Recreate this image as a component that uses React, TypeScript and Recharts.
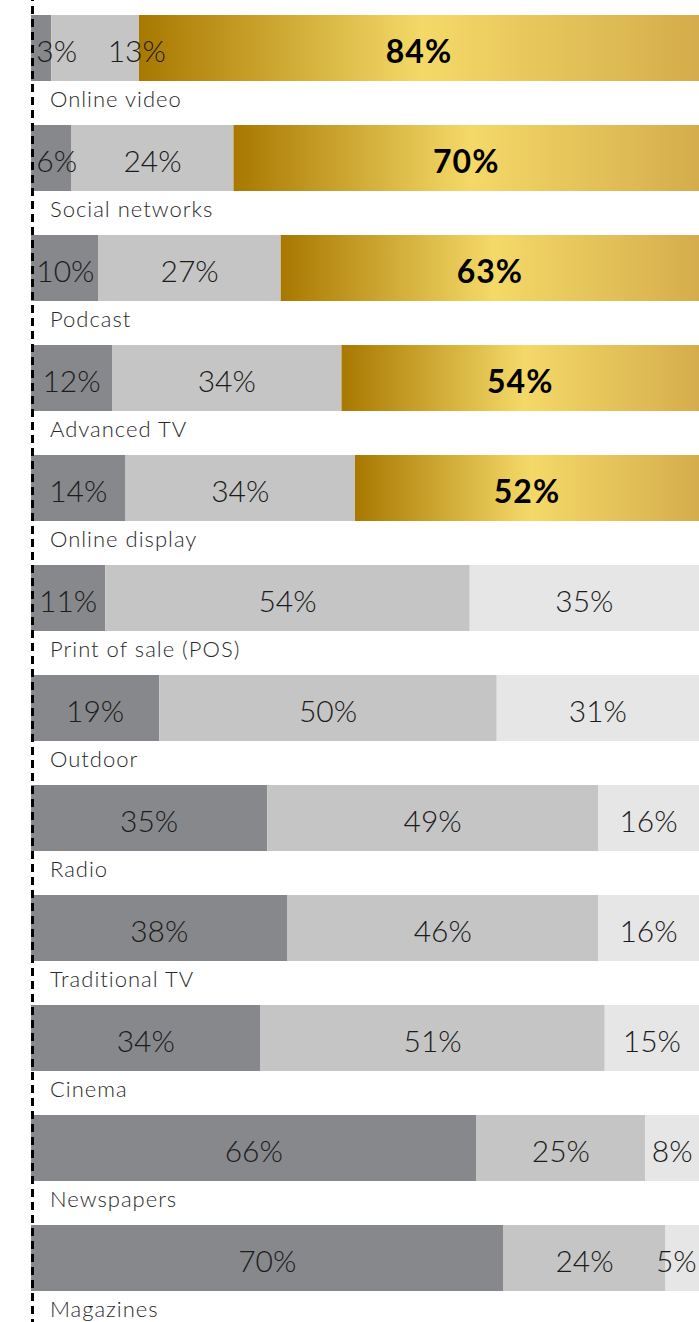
import React from 'react';
import { BarChart, Bar, XAxis, YAxis, Cell, LabelList, ReferenceLine } from 'recharts';

const categories = [
  'Online video',
  'Social networks',
  'Podcast',
  'Advanced TV',
  'Online display',
  'Print of sale (POS)',
  'Outdoor',
  'Radio',
  'Traditional TV',
  'Cinema',
  'Newspapers',
  'Magazines',
];
const lowShare = [3, 6, 10, 12, 14, 11, 19, 35, 38, 34, 66, 70];
const midShare = [13, 24, 27, 34, 34, 54, 50, 49, 46, 51, 25, 24];
const highShare = [84, 70, 63, 54, 52, 35, 31, 16, 16, 15, 8, 5];
const highlighted = [true, true, true, true, true, false, false, false, false, false, false, false];

const data = categories.map((name, i) => ({
  idx: i,
  name,
  low: lowShare[i],
  mid: midShare[i],
  high: highShare[i],
}));

const VIEW_W = 699;
const CHART_W = 706;
const CHART_H = 1330;
const FS = 30;
const FS_BOLD = 32;
const FONT = 'Lato, "Open Sans", sans-serif';
const C_LOW = '#87888c';
const C_MID = '#c5c5c5';
const C_HIGH = '#e6e6e6';

const textW = (v: number, bold: boolean) => {
  const digits = String(v).length;
  return bold ? digits * 0.6 * FS_BOLD + 0.9 * FS_BOLD : digits * 0.58 * FS + 0.8 * FS;
};

const RowLabels = (props: any) => {
  const { x, y, width, height, value } = props;
  const i = value as number;
  if (i === undefined || i === null || !data[i]) return null;
  const row = data[i];
  const k = width / row.high; // px per percent from the bar's scale
  const x0 = x - (row.low + row.mid) * k;
  const lowW = row.low * k;
  const midX = x0 + lowW;
  const midW = row.mid * k;
  const ty = y + height / 2 + 14;

  const tw1 = textW(row.low, false);
  const c1 = Math.max(x0 + lowW / 2, x0 + tw1 / 2 + 5);
  const end1 = c1 + tw1 / 2;

  const tw2 = textW(row.mid, false);
  const c2 = Math.max(midX + midW / 2, end1 + 30 + tw2 / 2);

  const bold = highlighted[i];
  const tw3 = textW(row.high, bold);
  const visRight = Math.min(x + width, VIEW_W);
  const c3 = Math.min((x + visRight) / 2, VIEW_W - 2 - tw3 / 2);

  const common = {
    fontFamily: FONT,
    fontSize: FS,
    textAnchor: 'middle' as const,
    fill: '#1c1c1c',
  };
  return (
    <g>
      <text {...common} x={c1} y={ty} fontWeight={300}>{row.low}%</text>
      <text {...common} x={c2} y={ty} fontWeight={300}>{row.mid}%</text>
      {bold ? (
        <text {...common} x={c3} y={ty + 1} fontSize={FS_BOLD} fontWeight={700} letterSpacing={1} fill="#000">
          {row.high}%
        </text>
      ) : (
        <text {...common} x={c3} y={ty} fontWeight={300}>
          {row.high}%
        </text>
      )}
      <text
        x={x0 + 19}
        y={y + height + 26}
        fontFamily={FONT}
        fontSize={22}
        fontWeight={300}
        letterSpacing={1}
        fill="#2a2a2a"
        textAnchor="start"
      >
        {row.name}
      </text>
    </g>
  );
};

const DashedAxis = (p: any) => {
  const lx = (p.x1 ?? 0) + 1.5;
  return (
    <line x1={lx} x2={lx} y1={0} y2={CHART_H} stroke="#000" strokeWidth={3} strokeDasharray="8 5" />
  );
};

export default function App() {
  return (
    <div
      style={{
        position: 'fixed',
        left: 0,
        top: 0,
        width: VIEW_W,
        height: 1322,
        overflow: 'hidden',
        background: '#fff',
      }}
    >
      <div style={{ position: 'absolute', left: 0, top: -7 }}>
        <BarChart
          width={CHART_W}
          height={CHART_H}
          data={data}
          layout="vertical"
          margin={{ top: 0, right: 0, bottom: 10, left: 31 }}
          barSize={66}
        >
          <defs>
            <linearGradient id="gold" x1="0" y1="0" x2="1" y2="0">
              <stop offset="0%" stopColor="#a87800" />
              <stop offset="50%" stopColor="#f4d968" />
              <stop offset="100%" stopColor="#d4ab4b" />
            </linearGradient>
          </defs>
          <XAxis type="number" domain={[0, 100]} hide />
          <YAxis type="category" dataKey="name" hide />
          <Bar dataKey="low" stackId="a" fill={C_LOW} isAnimationActive={false} />
          <Bar dataKey="mid" stackId="a" fill={C_MID} isAnimationActive={false} />
          <Bar dataKey="high" stackId="a" fill={C_HIGH} isAnimationActive={false}>
            {data.map((d, i) => (
              <Cell key={d.name} fill={highlighted[i] ? 'url(#gold)' : C_HIGH} />
            ))}
            <LabelList dataKey="idx" content={RowLabels} />
          </Bar>
          <ReferenceLine x={0} stroke="#000" strokeWidth={3} strokeDasharray="8 5" shape={DashedAxis} />
        </BarChart>
      </div>
    </div>
  );
}
